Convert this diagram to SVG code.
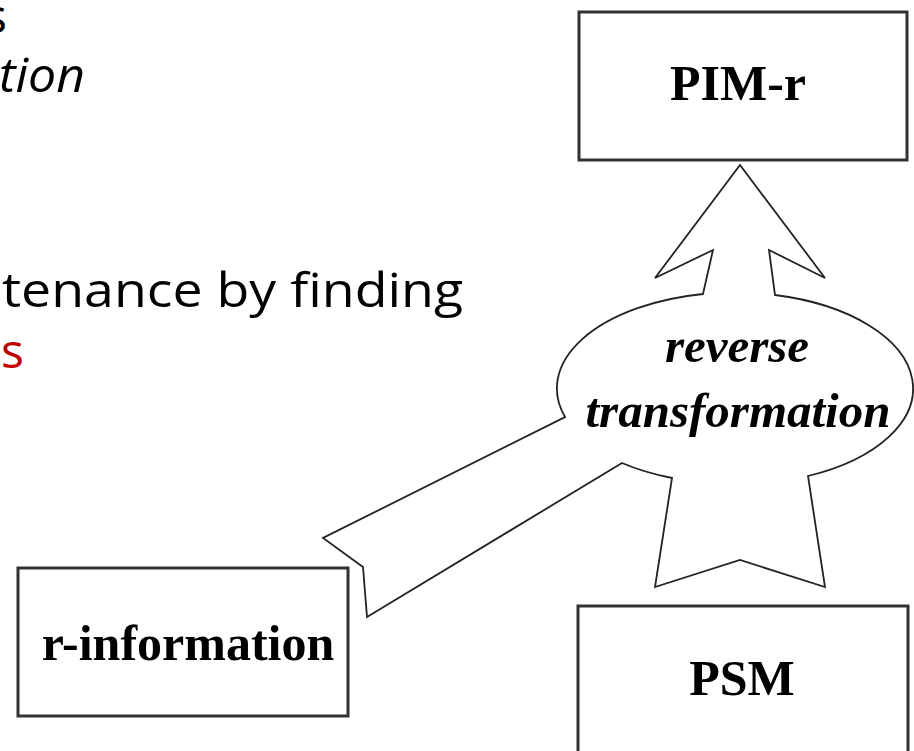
<svg xmlns="http://www.w3.org/2000/svg" width="914" height="751" viewBox="0 0 914 751">
  <style>
    .slide { font-family: "Open Sans", "Noto Sans", "Liberation Sans", sans-serif; font-size: 48px; fill: #000; }
    .box { fill: #fff; stroke: #333; stroke-width: 3; }
    .label { font-family: "Liberation Serif", "DejaVu Serif", serif; font-weight: bold; font-size: 50px; fill: #000; text-anchor: middle; }
    .ital { font-family: "Liberation Serif", "DejaVu Serif", serif; font-weight: bold; font-style: italic; font-size: 49px; fill: #000; text-anchor: middle; }
    .flow { fill: #fff; stroke: #222; stroke-width: 1.8; stroke-linejoin: miter; }
  </style>
  <rect width="914" height="751" fill="#fff"/>

  <!-- slide text running behind the figure -->
  <g id="slide-text">
    <text class="slide" x="-16" y="33" font-size="52">s</text>
    <text class="slide" x="-1" y="92" font-style="italic" textLength="86" lengthAdjust="spacingAndGlyphs">tion</text>
    <text class="slide" x="2" y="307" textLength="461" lengthAdjust="spacingAndGlyphs">tenance by finding</text>
    <text class="slide" x="1" y="368" fill="#c00000" style="fill:#c00000">s</text>
  </g>

  <!-- block arrows merged with the callout ellipse -->
  <g id="connectors">
    <path class="flow" d="M740,165 L825,278 L769,250 L775,295 A178.5,96 0 0,1 808,476 L825,587 L740,560 L655,587 L672,478 A178.5,96 0 0,1 622,463 L367,617 L363,567 L323,538 L565,417 A178.5,96 0 0,1 703,294 L713,250 L655,278 Z"/>
  </g>

  <g id="node-reverse-transformation">
    <text class="ital" x="737" y="362">reverse</text>
    <text class="ital" x="738" y="427">transformation</text>
  </g>

  <g id="node-pim-r">
    <rect class="box" x="579" y="12" width="328" height="148"/>
    <text class="label" x="738" y="100">PIM-r</text>
  </g>

  <g id="node-psm">
    <rect class="box" x="578" y="606" width="330" height="160"/>
    <text class="label" x="742" y="695">PSM</text>
  </g>

  <g id="node-r-information">
    <rect class="box" x="18" y="568" width="330" height="148"/>
    <text class="label" x="188" y="660">r-information</text>
  </g>
</svg>
